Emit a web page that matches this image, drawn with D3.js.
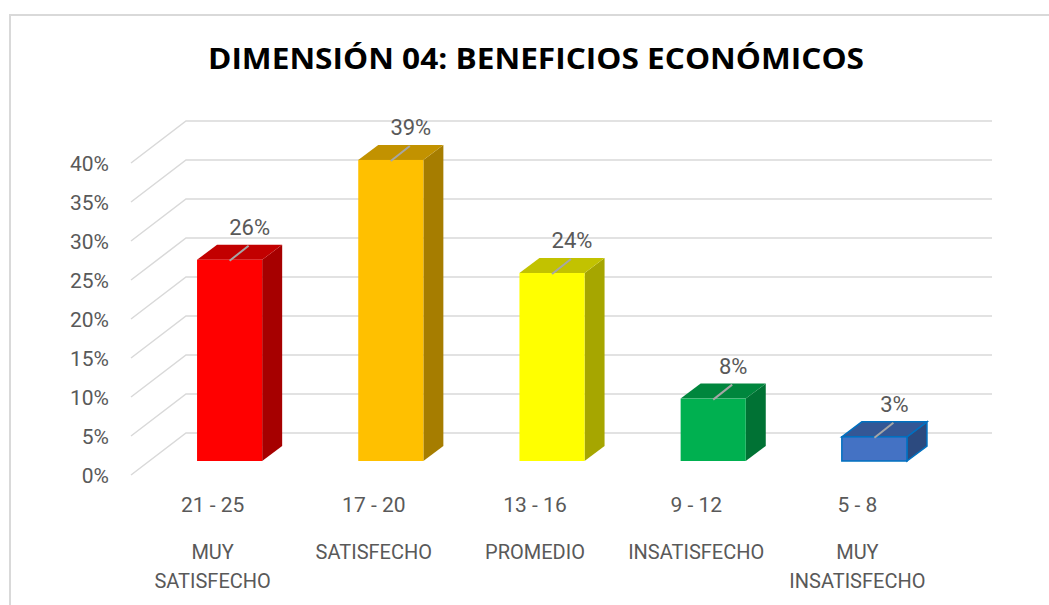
<!DOCTYPE html>
<html>
<head>
<meta charset="utf-8">
<script src="https://cdn.jsdelivr.net/npm/d3@7"></script>
<style>
  body { margin: 0; background: #fff; }
  text { font-family: Roboto, "Liberation Sans", sans-serif; }
</style>
</head>
<body>
<div id="chart"></div>
<script>
// data
const ranges = ["21 - 25", "17 - 20", "13 - 16", "9 - 12", "5 - 8"]
const levels = [["MUY", "SATISFECHO"], ["SATISFECHO"], ["PROMEDIO"], ["INSATISFECHO"], ["MUY", "INSATISFECHO"]]
const values = [0.258, 0.386, 0.241, 0.08, 0.031]
const yTicks = [0, 0.05, 0.1, 0.15, 0.2, 0.25, 0.3, 0.35, 0.4]
const colors = ["#FF0000", "#FFC000", "#FFFF00", "#00B050", "#4472C4"]
const title = "DIMENSIÓN 04: BENEFICIOS ECONÓMICOS"

const width = 1049, height = 605
// oblique 3d depth of the plot box and of the bars
const DX = 55, DY = -42
const barOff = [18, -14], barDepth = [20, -15]

const svg = d3.select("#chart").append("svg")
  .attr("width", width)
  .attr("height", height)

// chart border
svg.append("rect")
  .attr("x", 10).attr("y", 15)
  .attr("width", 1200).attr("height", 800)
  .attr("fill", "none")
  .attr("stroke", "#d9d9d9")
  .attr("stroke-width", 2)

// title
svg.append("text")
  .text(title)
  .attr("x", 208)
  .attr("y", 69)
  .attr("textLength", 656)
  .attr("lengthAdjust", "spacingAndGlyphs")
  .style("font-family", "'Open Sans', sans-serif")
  .style("font-weight", "bold")
  .style("font-size", "28px")
  .attr("fill", "#000")

const xScale = d3.scaleBand()
  .domain(ranges)
  .range([131, 937])
  .paddingInner(0.596)
  .paddingOuter(0.298)

const yScale = d3.scaleLinear()
  .domain([0, 0.4])
  .range([475, 163])

// gridlines: floor/side diagonal + back wall line
const grid = svg.append("g")
grid.selectAll("path")
  .data(yTicks).enter()
  .append("path")
    .attr("d", d => {
      const y = yScale(d)
      return "M131," + y + "L" + (131 + DX) + "," + (y + DY) + "L" + (937 + DX) + "," + (y + DY)
    })
    .attr("fill", "none")
    .attr("stroke", "#d9d9d9")
    .attr("stroke-width", 1.5)

// y axis labels
const yAxis = d3.axisLeft(yScale)
  .tickValues(yTicks)
  .tickFormat(d3.format(".0%"))
  .tickSize(0)
  .tickPadding(0)

const yg = svg.append("g")
  .attr("transform", "translate(109,0)")
  .call(yAxis)
yg.select(".domain").remove()
yg.selectAll("text")
  .attr("dy", "0.36em")
  .style("font-size", "21px")
  .style("font-family", "Roboto, sans-serif")
  .attr("fill", "#595959")

function shade(c, k) {
  const r = d3.rgb(c)
  return d3.rgb(r.r * k, r.g * k, r.b * k).formatHex()
}

const rows = ranges.map((r, i) => ({ r: r, v: values[i], c: colors[i], i: i }))

const bars = svg.selectAll("g.bar")
  .data(rows).enter()
  .append("g")
    .attr("class", "bar")

bars.each(function(d) {
  const g = d3.select(this)
  const xl = xScale(d.r) + barOff[0]
  const xr = xl + xScale.bandwidth()
  const yb = yScale(0) + barOff[1]
  const yt = yScale(d.v) + barOff[1]
  const [bx, by] = barDepth
  const edge = d.i === 4 ? "#0070C0" : "none"

  // side
  g.append("polygon")
    .attr("points", [[xr, yt], [xr + bx, yt + by], [xr + bx, yb + by], [xr, yb]].join(" "))
    .attr("fill", shade(d.c, 0.65))
    .attr("stroke", edge).attr("stroke-width", 1.5)
  // top
  g.append("polygon")
    .attr("points", [[xl, yt], [xl + bx, yt + by], [xr + bx, yt + by], [xr, yt]].join(" "))
    .attr("fill", shade(d.c, 0.76))
    .attr("stroke", edge).attr("stroke-width", 1.5)
  // front
  g.append("rect")
    .attr("x", xl).attr("y", yt)
    .attr("width", xr - xl).attr("height", yb - yt)
    .attr("fill", d.c)
    .attr("stroke", edge).attr("stroke-width", 1.5)

  // leader line + data label
  const cx = (xl + xr) / 2
  g.append("line")
    .attr("x1", cx).attr("y1", yt + 1)
    .attr("x2", cx + 19).attr("y2", yt - 14)
    .attr("stroke", "#a6a6a6")
    .attr("stroke-width", 2)
  g.append("text")
    .text(Math.round(d.v * 100) + "%")
    .attr("x", cx + 20)
    .attr("y", yt - 25)
    .attr("text-anchor", "middle")
    .style("font-size", "22px")
    .attr("fill", "#595959")
})

// category labels (range on first line, level below)
const cats = svg.append("g")
  .selectAll("g")
  .data(ranges).enter()
  .append("g")
    .attr("transform", d => "translate(" + (xScale(d) + xScale.bandwidth() / 2 + 1) + ",0)")

cats.append("text")
  .text(d => d)
  .attr("y", 512)
  .attr("text-anchor", "middle")
  .style("font-size", "21px")
  .attr("fill", "#595959")

cats.each(function(d, i) {
  const t = d3.select(this)
  levels[i].forEach((line, j) => {
    t.append("text")
      .text(line)
      .attr("y", 559 + j * 29)
      .attr("text-anchor", "middle")
      .style("font-size", "20px")
      .attr("fill", "#595959")
  })
})
</script>
</body>
</html>
